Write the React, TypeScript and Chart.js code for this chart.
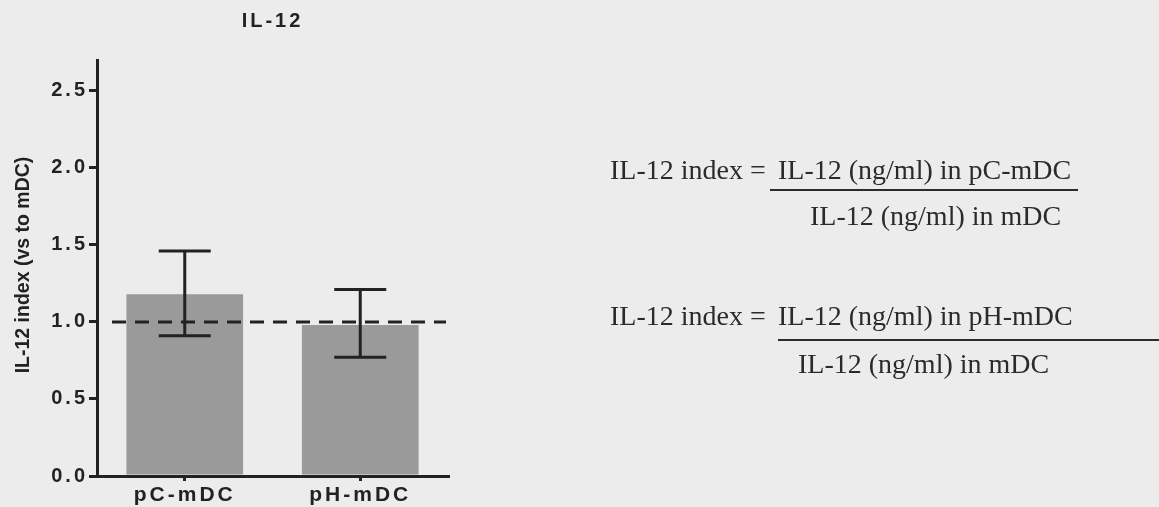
import React, { useEffect, useRef } from "react";
import { Chart, registerables } from "chart.js";

Chart.register(...registerables);

// ---- data ----
const categories = ["pC-mDC", "pH-mDC"];
const meanValues = [1.18, 0.98];
const upperErrors = [1.46, 1.21];
const lowerErrors = [0.91, 0.77];
const referenceLevel = 1.0;
const yMin = 0;
const yMax = 2.7;
const yStep = 0.5;
const chartTitle = "IL-12";
const yAxisTitle = "IL-12 index (vs to mDC)";

const eqLhs = ["IL-12 index =", "IL-12 index ="];
const eqNumerators = ["IL-12 (ng/ml) in pC-mDC", "IL-12 (ng/ml) in pH-mDC"];
const eqDenominators = ["IL-12 (ng/ml) in mDC", "IL-12 (ng/ml) in mDC"];

const SANS = "'Liberation Sans', Arial, Helvetica, sans-serif";
const SERIF = "'Liberation Serif', 'Times New Roman', serif";
const INK = "#222222";

const spacingPlugin = {
  id: "spacing",
  beforeLayout(chart: any) {
    (chart.ctx as any).letterSpacing = "3px";
  },
  beforeDraw(chart: any) {
    (chart.ctx as any).letterSpacing = "3px";
  },
};

const overlayPlugin = {
  id: "overlay",
  afterDatasetsDraw(chart: any) {
    const ctx = chart.ctx;
    const y = chart.scales.y;
    const area = chart.chartArea;
    // dashed reference line
    ctx.save();
    ctx.strokeStyle = INK;
    ctx.lineWidth = 3;
    ctx.setLineDash([14, 9]);
    const ry = y.getPixelForValue(referenceLevel);
    ctx.beginPath();
    ctx.moveTo(area.left + 15, ry);
    ctx.lineTo(area.right - 2, ry);
    ctx.stroke();
    ctx.restore();
    // error bars
    const meta = chart.getDatasetMeta(0);
    ctx.save();
    ctx.strokeStyle = INK;
    ctx.lineWidth = 3;
    ctx.lineCap = "butt";
    meta.data.forEach((bar: any, i: number) => {
      const x = bar.x;
      const yt = y.getPixelForValue(upperErrors[i]);
      const yb = y.getPixelForValue(lowerErrors[i]);
      const half = 26;
      ctx.beginPath();
      ctx.moveTo(x, yt);
      ctx.lineTo(x, yb);
      ctx.moveTo(x - half, yt);
      ctx.lineTo(x + half, yt);
      ctx.moveTo(x - half, yb);
      ctx.lineTo(x + half, yb);
      ctx.stroke();
    });
    ctx.restore();
  },
  afterDraw(chart: any) {
    const ctx = chart.ctx;
    const area = chart.chartArea;
    ctx.save();
    (ctx as any).letterSpacing = "0px";
    ctx.fillStyle = INK;
    ctx.font = `bold 19.5px ${SANS}`;
    ctx.textAlign = "center";
    ctx.textBaseline = "middle";
    ctx.translate(24, (area.top + area.bottom) / 2 - 3);
    ctx.rotate(-Math.PI / 2);
    ctx.fillText(yAxisTitle, 0, 0);
    ctx.restore();
  },
};

function ChartCanvas() {
  const ref = useRef<HTMLCanvasElement | null>(null);
  useEffect(() => {
    if (!ref.current) return;
    const chart = new Chart(ref.current, {
      type: "bar",
      data: {
        labels: categories,
        datasets: [
          {
            data: meanValues,
            backgroundColor: "#9a9a9a",
            borderWidth: 0,
            barPercentage: 0.665,
            categoryPercentage: 1.0,
          },
        ],
      },
      plugins: [spacingPlugin, overlayPlugin],
      options: {
        animation: false,
        responsive: false,
        layout: { padding: { left: 0, right: 711, top: 0, bottom: 0 } },
        plugins: {
          legend: { display: false },
          tooltip: { enabled: false },
          title: {
            display: true,
            text: chartTitle,
            fullSize: false,
            color: INK,
            font: { family: SANS, size: 20, weight: "bold", lineHeight: 1.2 },
            padding: { top: 9, bottom: 27 },
          },
        },
        scales: {
          x: {
            offset: true,
            grid: {
              offset: false,
              drawOnChartArea: false,
              drawTicks: true,
              tickLength: 5,
              color: INK,
              lineWidth: 3,
            },
            border: { color: INK, width: 3 },
            ticks: {
              color: INK,
              font: { family: SANS, size: 21, weight: "bold" },
              padding: 2,
              maxRotation: 0,
            },
            afterFit: (s: any) => {
              s.height = 31;
            },
          },
          y: {
            min: yMin,
            max: yMax,
            grid: {
              drawOnChartArea: false,
              drawTicks: true,
              tickLength: 8,
              color: INK,
              lineWidth: 3,
            },
            border: { color: INK, width: 3 },
            ticks: {
              stepSize: yStep,
              includeBounds: false,
              color: INK,
              font: { family: SANS, size: 20, weight: "bold" },
              padding: 1,
              callback: (v: any) => Number(v).toFixed(1),
            },
            afterFit: (s: any) => {
              s.width = 97;
            },
          },
        },
      },
    } as any);
    return () => chart.destroy();
  }, []);
  return (
    <canvas
      ref={ref}
      width={1159}
      height={507}
      style={{ position: "absolute", left: 0, top: 0, width: 1159, height: 507 }}
    />
  );
}

const FS = 28;
const ASC = 23.4; // baseline offset from top for 28px serif with line-height 1

function Txt({ x, baseline, children }: { x: number; baseline: number; children: any }) {
  return (
    <div
      style={{
        position: "absolute",
        left: x,
        top: baseline - ASC,
        fontFamily: SERIF,
        fontSize: FS,
        lineHeight: `${FS}px`,
        whiteSpace: "nowrap",
        color: "#2b2b2b",
      }}
    >
      {children}
    </div>
  );
}

function Rule({ x1, x2, y }: { x1: number; x2: number; y: number }) {
  return (
    <div
      style={{
        position: "absolute",
        left: x1,
        top: y - 1,
        width: x2 - x1,
        height: 2,
        background: "#2b2b2b",
      }}
    />
  );
}

export default function App() {
  return (
    <div
      style={{
        position: "fixed",
        left: 0,
        top: 0,
        width: 1159,
        height: 507,
        overflow: "hidden",
        background: "#ececec",
      }}
    >
      <ChartCanvas />
      <Txt x={610} baseline={179}>{eqLhs[0]}</Txt>
      <Txt x={778} baseline={179}>{eqNumerators[0]}</Txt>
      <Rule x1={770} x2={1078} y={190} />
      <Txt x={810} baseline={225}>{eqDenominators[0]}</Txt>

      <Txt x={610} baseline={325}>{eqLhs[1]}</Txt>
      <Txt x={778} baseline={325}>{eqNumerators[1]}</Txt>
      <Rule x1={778} x2={1159} y={340} />
      <Txt x={798} baseline={373}>{eqDenominators[1]}</Txt>
    </div>
  );
}
